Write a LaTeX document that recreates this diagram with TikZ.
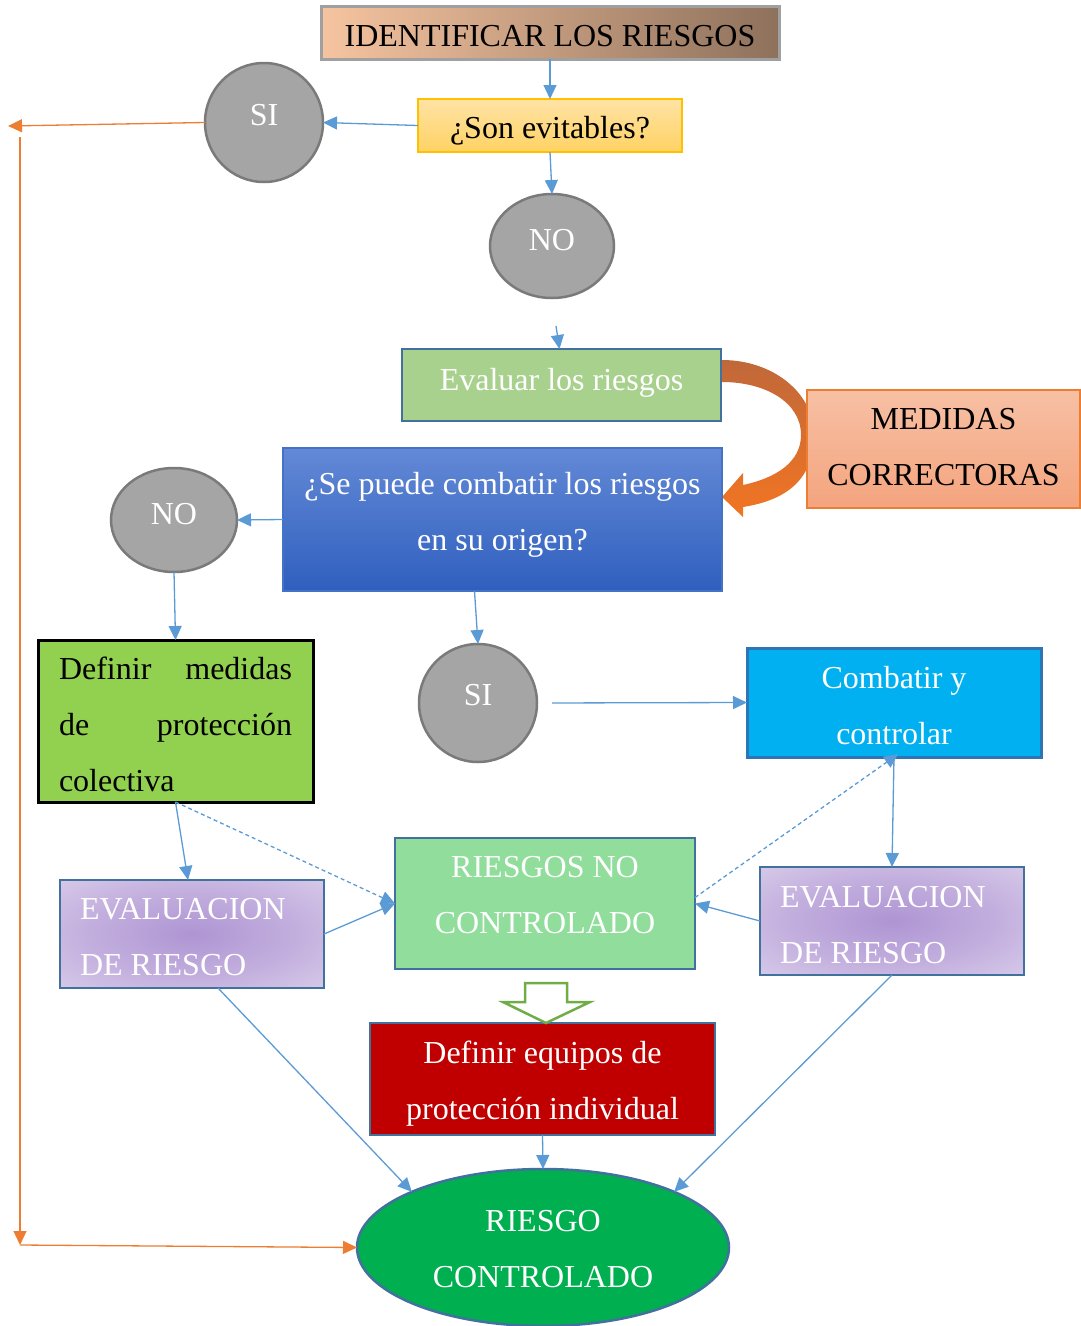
\documentclass[tikz,border=0pt]{standalone}
\usepackage{fontspec}
\setmainfont{Liberation Serif}
\usetikzlibrary{shapes.geometric,arrows.meta}
\definecolor{lblue}{HTML}{5B9BD5}
\definecolor{orng}{HTML}{ED7D31}
\definecolor{cgray}{HTML}{A5A5A5}
\definecolor{cgrayd}{HTML}{7A7A7A}
\definecolor{bdblue}{HTML}{41719C}
\definecolor{identL}{HTML}{F6C4A0}
\definecolor{identR}{HTML}{8E715C}
\definecolor{identB}{HTML}{A0A0A0}
\definecolor{sonT}{HTML}{FFE3A6}
\definecolor{sonB}{HTML}{FFD263}
\definecolor{gold}{HTML}{FFC000}
\definecolor{evalF}{HTML}{A9D18E}
\definecolor{medT}{HTML}{F7C0A4}
\definecolor{medB}{HTML}{F4A47E}
\definecolor{seT}{HTML}{6389D6}
\definecolor{seB}{HTML}{2F5FBE}
\definecolor{seBd}{HTML}{4472C4}
\definecolor{colF}{HTML}{92D050}
\definecolor{combF}{HTML}{00B0F0}
\definecolor{combB}{HTML}{2E75B6}
\definecolor{purpIn}{HTML}{AE95D3}
\definecolor{purpA}{HTML}{C3AFDE}
\definecolor{purpB}{HTML}{E2DAEF}
\definecolor{purpOut}{HTML}{F2EFF8}
\definecolor{rncF}{HTML}{90DD9C}
\definecolor{redF}{HTML}{C00000}
\definecolor{rcF}{HTML}{00B050}
\definecolor{grnB}{HTML}{70AD47}
\definecolor{curvT}{HTML}{C0683A}
\definecolor{curvB}{HTML}{F27522}
\pgfdeclareradialshading{evsh}{\pgfpoint{0bp}{0bp}}{color(0bp)=(purpIn); color(20bp)=(purpA); color(46bp)=(purpB); color(72bp)=(purpOut)}
\begin{document}
\begin{tikzpicture}[x=1pt,y=-1pt,
  font=\fontsize{32}{56}\selectfont,
  box/.style={rectangle,inner sep=0pt,outer sep=0pt,align=flush center},
  circ/.style={ellipse,inner sep=0pt,outer sep=0pt,fill=cgray,draw=cgrayd,line width=2.5pt,text=white,text depth=0pt},
  evbox/.style={box,minimum width=264pt,minimum height=108pt,shading=evsh,draw=bdblue,line width=2.5pt,text=white,text width=224pt,align=flush left,text height=0pt},
  arr/.style={draw=lblue,line width=1.3pt,-{Triangle[length=14pt,width=13pt]}},
  darr/.style={arr,dash pattern=on 4pt off 3pt},
  oarr/.style={draw=orng,line width=1.3pt,-{Triangle[length=14pt,width=13pt]}}]
\useasboundingbox (0,0) rectangle (1080,1326);

% curved block arrow (behind the boxes)
\shade[top color=curvT,bottom color=curvB]
  (722,360) .. controls (772,360) and (814,392) .. (814,435)
  .. controls (814,478) and (788,500) .. (743,507)
  -- (743,517) -- (722,497) -- (743,473) -- (743,485)
  .. controls (776,478) and (801,462) .. (801,435)
  .. controls (801,402) and (765,382) .. (722,382) -- cycle;

% nodes
\node[box,minimum width=458pt,minimum height=53pt,left color=identL,right color=identR,draw=identB,line width=3pt,text height=28pt,text depth=0pt] (ident) at (550,32.5) {IDENTIFICAR LOS RIESGOS};
\node[box,minimum width=264pt,minimum height=53pt,top color=sonT,bottom color=sonB,draw=gold,line width=1.5pt,text height=26pt,text depth=0pt] (son) at (550,125.5) {¿Son evitables?};
\node[circ,minimum width=118pt,minimum height=119pt,text height=6pt] (si1) at (264,122.5) {SI};
\node[circ,minimum width=124pt,minimum height=104pt,text height=9pt] (no1) at (552,246) {NO};
\node[box,minimum width=319pt,minimum height=72pt,fill=evalF,draw=bdblue,line width=2.5pt,text=white,text height=11pt,text depth=0pt] (eval) at (561.5,385) {Evaluar los riesgos};
\node[box,minimum width=273pt,minimum height=118pt,top color=medT,bottom color=medB,draw=orng,line width=1.5pt,text width=260pt,text height=0pt,text depth=40pt] (med) at (943.5,449) {MEDIDAS\\CORRECTORAS};
\node[box,minimum width=439pt,minimum height=143pt,top color=seT,bottom color=seB,draw=seBd,line width=1.5pt,text=white,text width=420pt,text height=0pt,text depth=51pt] (se) at (502.5,519.5) {¿Se puede combatir los riesgos\\en su origen?};
\node[circ,minimum width=126pt,minimum height=104pt,text height=9pt] (no2) at (174,520) {NO};
\node[box,minimum width=275pt,minimum height=162pt,fill=colF,draw=black,line width=3pt,text width=233pt,align=flush left,text height=0pt,text depth=83pt] (col) at (175.5,721) {\makebox[233pt]{Definir\hfill medidas}\\\makebox[233pt]{de\hfill protección}\\colectiva};
\node[circ,minimum width=118pt,minimum height=118pt,text height=5pt] (si2) at (478,703) {SI};
\node[box,minimum width=294pt,minimum height=109pt,fill=combF,draw=combB,line width=3pt,text=white,text width=270pt,text height=0pt,text depth=28pt] (comb) at (894,702.5) {Combatir y\\controlar};
\node[evbox,text depth=30pt] (evL) at (192,934) {EVALUACION\\DE RIESGO};
\node[box,minimum width=300pt,minimum height=131pt,fill=rncF,draw=bdblue,line width=2.5pt,text=white,text width=280pt,text height=0pt,text depth=52pt] (rnc) at (545,903.5) {RIESGOS NO\\CONTROLADO};
\node[evbox,text depth=28pt] (evR) at (892,921) {EVALUACION\\DE RIESGO};
\node[box,minimum width=345pt,minimum height=112pt,fill=redF,draw=bdblue,line width=2.5pt,text=white,text width=320pt,text height=0pt,text depth=32pt] (equip) at (542.5,1079) {Definir equipos de\\protección individual};
\node[ellipse,inner sep=0pt,outer sep=0pt,minimum width=372pt,minimum height=157pt,fill=rcF,draw=bdblue,line width=2.5pt,text=white,text width=240pt,align=flush center,text height=0pt,text depth=32pt] (rc) at (543,1247.5) {RIESGO\\CONTROLADO};

% hollow block arrow
\draw[draw=grnB,line width=2.5pt,fill=white,line join=miter]
  (525,983) -- (567,983) -- (567,1002) -- (590,1002) -- (546,1023) -- (503,1002) -- (525,1002) -- cycle;

% connectors
\draw[arr] (ident.south) -- (son.north);
\draw[arr] (son.west) -- (si1.east);
\draw[arr] (son.south) -- (no1.north);
\draw[arr] ([xshift=4pt,yshift=-28pt]no1.south) -- ([xshift=-2pt]eval.north);
\draw[arr] (se.west) -- (no2.east);
\draw[arr] (no2.south) -- (col.north);
\draw[arr] ([xshift=-28pt]se.south) -- (si2.north);
\draw[arr,shorten <=15pt] (si2.east) -- (comb.west);
\draw[arr] (comb.south) -- (evR.north);
\draw[darr,shorten >=-5pt] ([yshift=6pt]rnc.east) -- (comb.south);
\draw[darr] (col.south) -- (rnc.west);
\draw[arr] (col.south) -- ([xshift=-4pt]evL.north);
\draw[arr] (evL.east) -- (rnc.west);
\draw[arr] (evR.west) -- (rnc.east);
\draw[arr] ([xshift=26pt]evL.south) -- (rc.157);
\draw[arr] (evR.south) -- (rc.23);
\draw[arr] (equip.south) -- (rc.north);

% orange return path
\coordinate (oL) at (8,126);
\coordinate (oT) at (20,137);
\coordinate (oB) at (20,1245);
\draw[oarr] (si1.west) -- (oL);
\draw[oarr] (oT) -- (oB);
\draw[oarr] (oB) -- (rc.west);
\end{tikzpicture}
\end{document}
